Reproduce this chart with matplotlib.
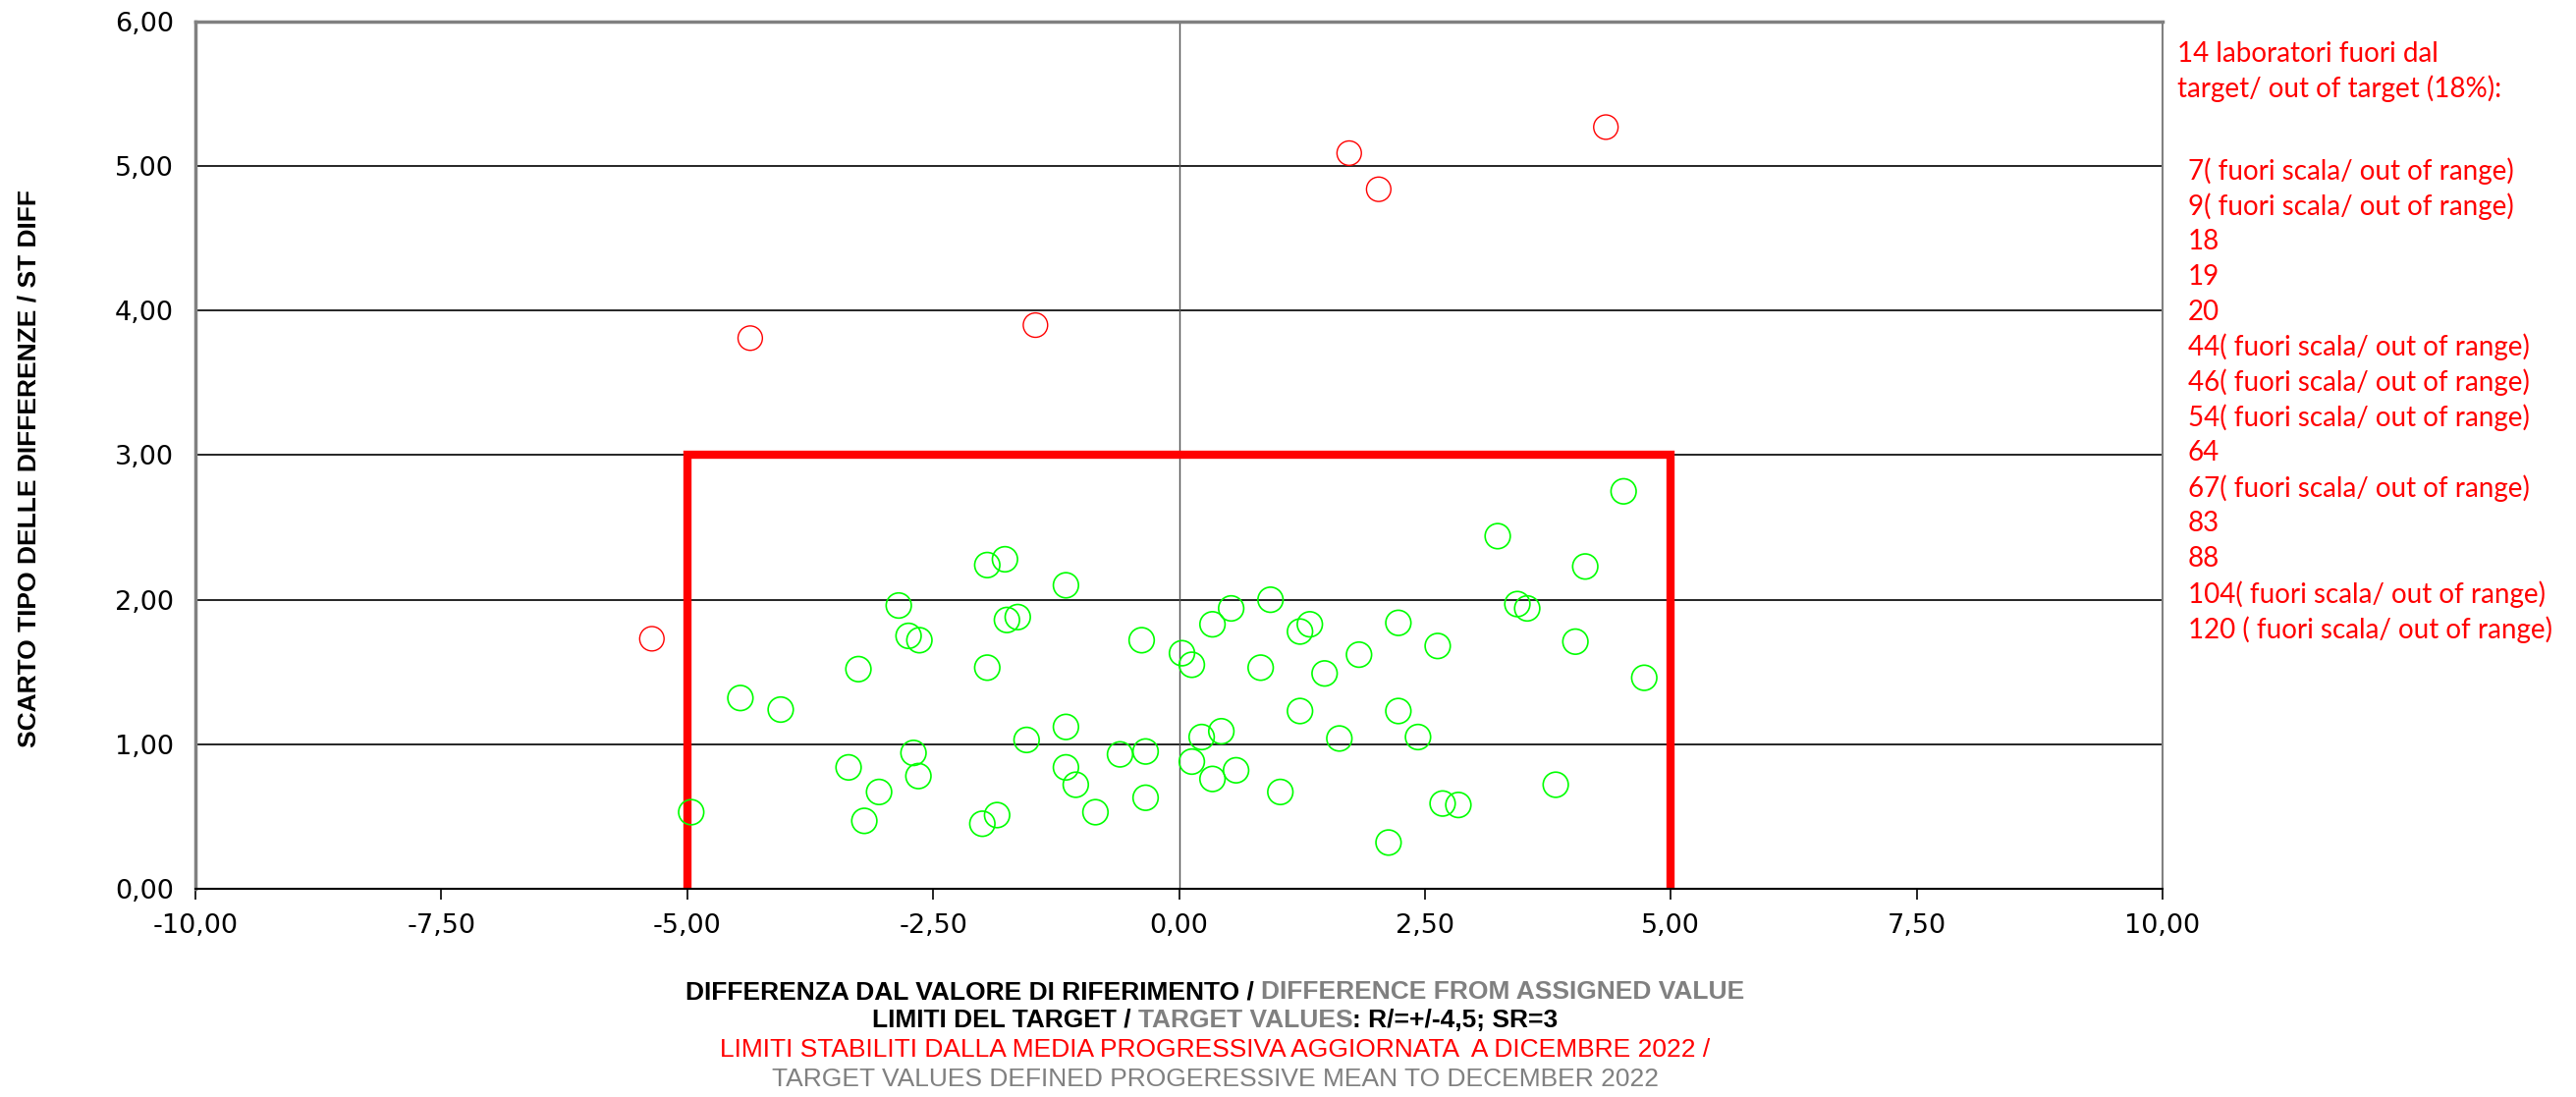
import matplotlib
matplotlib.use("Agg")
import matplotlib.pyplot as plt
from matplotlib.ticker import FixedLocator, FuncFormatter
from matplotlib.offsetbox import TextArea, HPacker, AnchoredOffsetbox

# labs inside the target (green circles)
green_x = [-4.96, -4.46, -4.05, -3.26, -3.36, -3.05, -3.20, -2.85, -2.75, -2.64,
           -2.70, -2.65, -1.95, -1.77, -1.15, -1.64, -1.75, -1.95, -1.15, -1.55,
           -1.15, -1.05, -1.85, -2.00, -0.85, -0.60, -0.34, -0.34, -0.38,
           4.52, 3.24, 4.13, 3.44, 3.54, 4.03, 4.73, 0.93, 0.53, 0.34,
           1.33, 1.23, 2.23, 2.63, 1.83, 0.03, 0.13, 0.83, 1.48, 1.23,
           2.23, 0.43, 0.23, 1.63, 2.43, 0.13, 0.58, 0.34, 1.03, 3.83,
           2.68, 2.84, 2.13]
green_y = [0.53, 1.32, 1.24, 1.52, 0.84, 0.67, 0.47, 1.96, 1.75, 1.72,
           0.94, 0.78, 2.24, 2.28, 2.10, 1.88, 1.86, 1.53, 1.12, 1.03,
           0.84, 0.72, 0.51, 0.45, 0.53, 0.93, 0.95, 0.63, 1.72,
           2.75, 2.44, 2.23, 1.97, 1.94, 1.71, 1.46, 2.00, 1.94, 1.83,
           1.83, 1.78, 1.84, 1.68, 1.62, 1.63, 1.55, 1.53, 1.49, 1.23,
           1.23, 1.09, 1.05, 1.04, 1.05, 0.88, 0.82, 0.76, 0.67, 0.72,
           0.59, 0.58, 0.32]

# labs out of target (red circles)
red_x = [-5.36, -4.36, -1.46, 1.73, 2.03, 4.34]
red_y = [1.73, 3.81, 3.90, 5.09, 4.84, 5.27]

# target limits box
target_x = [-5, -5, 5, 5]
target_y = [0, 3, 3, 0]

x_ticks = [-10, -7.5, -5, -2.5, 0, 2.5, 5, 7.5, 10]
y_ticks = [0, 1, 2, 3, 4, 5, 6]

out_header = ["14 laboratori fuori dal", "target/ out of target (18%):"]
out_labs = ["7( fuori scala/ out of range)", "9( fuori scala/ out of range)",
            "18", "19", "20",
            "44( fuori scala/ out of range)", "46( fuori scala/ out of range)",
            "54( fuori scala/ out of range)", "64",
            "67( fuori scala/ out of range)", "83", "88",
            "104( fuori scala/ out of range)", "120 ( fuori scala/ out of range)"]

narrow = ["Liberation Sans Narrow", "Liberation Sans", "DejaVu Sans"]
GRAY = "#808080"

fig = plt.figure(figsize=(26.23, 11.17), dpi=100)
ax = fig.add_axes([0.0759, 0.1898, 0.7636, 0.7905])

ax.set_xlim(-10, 10)
ax.set_ylim(0, 6)

ax.yaxis.grid(True, color="black", lw=1.2, zorder=0)
ax.set_axisbelow(True)
ax.axvline(0, color="#505050", lw=1.0, zorder=1)

ax.plot(target_x, target_y, color="#FF0000", lw=6, solid_joinstyle="miter", zorder=2)
ax.scatter(green_x, green_y, s=340, facecolors="none", edgecolors="#00FF00",
           linewidths=1.2, zorder=3)
ax.scatter(red_x, red_y, s=320, facecolors="none", edgecolors="#FF0000",
           linewidths=1.0, zorder=3)

fmt = FuncFormatter(lambda v, p: f"{v:.2f}".replace(".", ","))
ax.xaxis.set_major_locator(FixedLocator(x_ticks))
ax.yaxis.set_major_locator(FixedLocator(y_ticks))
ax.xaxis.set_major_formatter(fmt)
ax.yaxis.set_major_formatter(fmt)
ax.tick_params(axis="x", direction="out", length=8, width=1.2, pad=10,
               labelsize=19.5, colors="black")
ax.tick_params(axis="y", length=0, pad=16, labelsize=19.5)

for side in ["left", "top", "right"]:
    ax.spines[side].set_color(GRAY)
ax.spines["left"].set_linewidth(2.5)
ax.spines["top"].set_linewidth(2.5)
ax.spines["right"].set_linewidth(1.5)
ax.spines["bottom"].set_color("black")
ax.spines["bottom"].set_linewidth(1.5)

# y axis title
fig.text(0.0114, 0.573, "SCARTO TIPO DELLE DIFFERENZE / ST DIFF", rotation=90,
         ha="center", va="center", fontsize=19, fontweight="bold", family=narrow)

# right side list of labs out of target
for i, t in enumerate(out_header):
    fig.text(0.8452, 1 - (55 + 35 * i) / 1117, t, color="#FF0000", fontsize=20,
             family="Lato", ha="left", va="center")
for i, t in enumerate(out_labs):
    fig.text(0.8494, 1 - (174 + 35.9 * i) / 1117, t, color="#FF0000", fontsize=20,
             family="Lato", ha="left", va="center")


def colored_line(parts, y, weight, size=19):
    boxes = [TextArea(t, textprops=dict(color=c, fontsize=size, fontweight=weight,
                                        family=narrow)) for t, c in parts]
    pack = HPacker(children=boxes, align="baseline", pad=0, sep=0)
    anchored = AnchoredOffsetbox(loc="center", child=pack, pad=0, borderpad=0,
                                 frameon=False, bbox_to_anchor=(0.4716, y),
                                 bbox_transform=fig.transFigure)
    fig.add_artist(anchored)


colored_line([("DIFFERENZA DAL VALORE DI RIFERIMENTO / ", "black"),
              ("DIFFERENCE FROM ASSIGNED VALUE", GRAY)], 1 - 1010 / 1117, "bold")
colored_line([("LIMITI DEL TARGET / ", "black"), ("TARGET VALUES", GRAY),
              (": R/=+/-4,5; SR=3", "black")], 1 - 1039 / 1117, "bold")
colored_line([("LIMITI STABILITI DALLA MEDIA PROGRESSIVA AGGIORNATA  A DICEMBRE 2022 /",
               "#FF0000")], 1 - 1069 / 1117, "normal")
colored_line([("TARGET VALUES DEFINED PROGERESSIVE MEAN TO DECEMBER 2022", GRAY)],
             1 - 1099 / 1117, "normal")

fig.savefig("out.png", dpi=100)
